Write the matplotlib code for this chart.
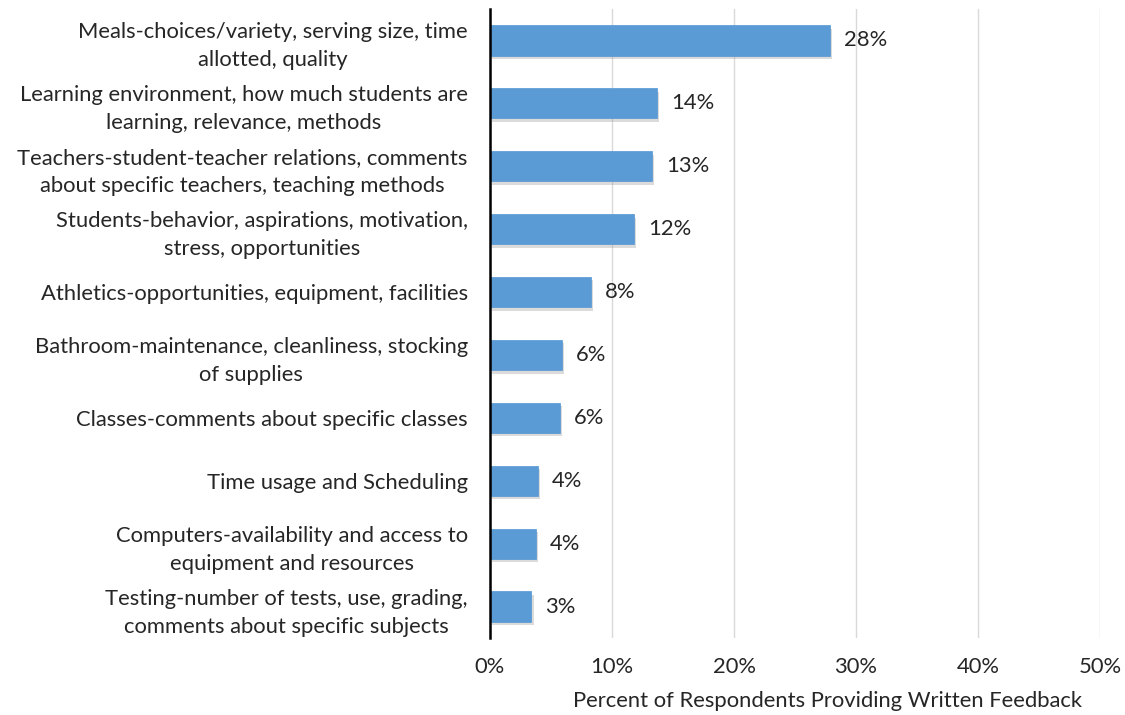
import matplotlib
matplotlib.use("Agg")
import matplotlib.pyplot as plt
import matplotlib.patheffects as pe

categories = [
    "Meals-choices/variety, serving size, time\nallotted, quality",
    "Learning environment, how much students are\nlearning, relevance, methods",
    "Teachers-student-teacher relations, comments\nabout specific teachers, teaching methods",
    "Students-behavior, aspirations, motivation,\nstress, opportunities",
    "Athletics-opportunities, equipment, facilities",
    "Bathroom-maintenance, cleanliness, stocking\nof supplies",
    "Classes-comments about specific classes",
    "Time usage and Scheduling",
    "Computers-availability and access to\nequipment and resources",
    "Testing-number of tests, use, grading,\ncomments about specific subjects",
]
values = [27.9, 13.7, 13.3, 11.8, 8.3, 5.9, 5.7, 3.9, 3.8, 3.4]
value_labels = ["28%", "14%", "13%", "12%", "8%", "6%", "6%", "4%", "4%", "3%"]
xticks = [0, 10, 20, 30, 40, 50]
xtick_labels = ["0%", "10%", "20%", "30%", "40%", "50%"]
xlabel = "Percent of Respondents Providing Written Feedback"

plt.rcParams['font.family'] = ['Lato', 'DejaVu Sans']
FS = 15.8
TC = "#262626"

fig = plt.figure(figsize=(11.25, 7.15), dpi=100)
ax = fig.add_axes([490/1125, 1 - 638/715, 610/1125, 629/715])

y = list(range(len(categories)))
bars = ax.barh(y, values, height=0.48, color="#5B9BD5", edgecolor="#5596D3", linewidth=0.5, zorder=3)
for b in bars:
    b.set_path_effects([pe.SimplePatchShadow(offset=(1.5, -2.5), shadow_rgbFace="#999999", alpha=0.35), pe.Normal()])

for yi, v, lab in zip(y, values, value_labels):
    ax.annotate(lab, (v, yi), xytext=(10, 0), textcoords="offset points",
                va="center", ha="left", fontsize=FS, color=TC)

ax.set_xlim(0, 50)
ax.set_ylim(9.5, -0.5)
ax.set_xticks(xticks)
ax.set_xticklabels(xtick_labels, fontsize=FS, color=TC)
ax.set_yticks(y)
ax.set_yticklabels(categories, fontsize=FS, color=TC, linespacing=1.5, multialignment="center")
ax.tick_params(axis="x", length=0, pad=14)
ax.tick_params(axis="y", length=0, pad=16)
ax.grid(axis="x", color="#D9D9D9", linewidth=1, zorder=0)
for s in ["top", "right", "bottom"]:
    ax.spines[s].set_visible(False)
ax.spines["left"].set_color("black")
ax.spines["left"].set_linewidth(1.8)
ax.spines["left"].set_zorder(4)
ax.set_xlabel(xlabel, fontsize=FS, color=TC)
ax.xaxis.set_label_coords(0.553, -0.085)

fig.savefig("out.png", dpi=100, facecolor="white")
